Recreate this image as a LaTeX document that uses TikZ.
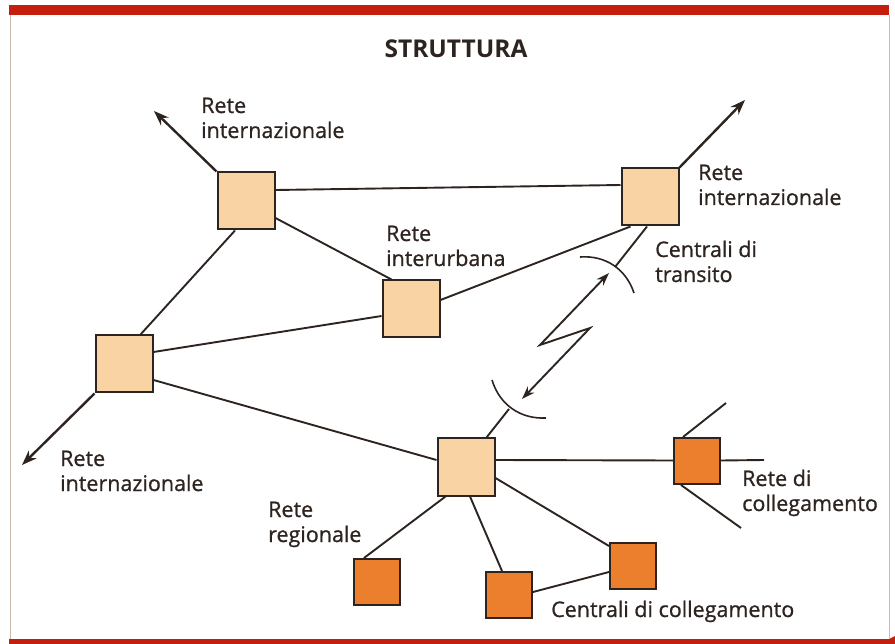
\documentclass[tikz,border=0pt]{standalone}
\usepackage{fontspec}
\setmainfont{Open Sans}
\newfontfamily\lblfont[FakeBold=0.9]{Open Sans}
\usetikzlibrary{arrows.meta}
\definecolor{peach}{HTML}{F9D3A3}
\definecolor{orng}{HTML}{EB7F2E}
\definecolor{ink}{HTML}{2D2420}
\definecolor{band}{HTML}{C41E0E}
\definecolor{frame}{HTML}{C9BBAE}
\tikzset{
  lsq/.style={draw=ink, line width=2pt, fill=peach, minimum size=57pt, inner sep=0pt},
  osq/.style={draw=ink, line width=2pt, fill=orng, minimum size=46pt, inner sep=0pt},
  link/.style={draw=ink, line width=1.9pt},
  outarrow/.style={draw=ink, line width=2.4pt, -{Stealth[length=15pt,width=11pt]}},
  zig/.style={draw=ink, line width=1.9pt, {Stealth[length=13pt,width=9pt]}-{Stealth[length=13pt,width=9pt]}},
  lbl/.style={font=\lblfont\fontsize{21.5}{25}\selectfont, text=ink, align=left, anchor=base west, inner sep=0pt},
  ttl/.style={font=\fontsize{24.5}{28}\selectfont\bfseries, text=ink, anchor=base, inner sep=0pt}
}
\begin{document}
\begin{tikzpicture}[x=1pt,y=-1pt]
\useasboundingbox (0,0) rectangle (895,644);
% frame
\fill[band] (9,5) rectangle (889,15.5);
\fill[band] (9,639) -- (889,639) -- (895,636) -- (895,644) -- (9,644) -- cycle;
\draw[frame, line width=0.8pt] (10,15) -- (10,639);
\draw[frame, line width=0.8pt] (889,15) -- (889,639);
% title
\node[ttl] (title) at (456,58) {STRUTTURA};
% nodes
\node[lsq] (A) at (246,201) {};
\node[lsq] (B) at (650,197) {};
\node[lsq] (C) at (411,309) {};
\node[lsq] (D) at (124,364) {};
\node[lsq] (E) at (466,467) {};
\node[osq] (F) at (697,461) {};
\node[osq] (G) at (377,582) {};
\node[osq] (H) at (509,595) {};
\node[osq] (I) at (633,566) {};
% free ends
\coordinate (aA) at (154,111);
\coordinate (aB) at (745,100);
\coordinate (aD) at (22,465);
\coordinate (fR) at (764,460);
\coordinate (fT) at (726,403);
\coordinate (fB) at (741,528);
\coordinate (tu) at (615,267);
\coordinate (tl) at (509,409);
\coordinate (z1) at (609,273);
\coordinate (z2) at (540,345);
\coordinate (z3) at (590,328);
\coordinate (z4) at (522,399);
\coordinate (au1) at (580,257);
\coordinate (au2) at (634,293);
\coordinate (al1) at (492,380);
\coordinate (al2) at (546,418);
% links
\draw[link] ([yshift=11pt]A.east) -- ([yshift=12pt]B.west);
\draw[link] ([yshift=-17pt]A.east) -- ([xshift=10pt]C.north west);
\draw[link] ([xshift=-11pt]A.south) -- ([xshift=-13pt]D.north east);
\draw[link] ([yshift=12pt]D.east) -- ([yshift=-7pt]C.west);
\draw[link] ([yshift=9pt]C.east) -- ([xshift=10pt]B.south west);
\draw[link] ([yshift=-16pt]D.east) -- ([yshift=7pt]E.west);
\draw[link] ([yshift=7pt]E.east) -- ([yshift=0.5pt]F.west);
\draw[link] ([yshift=0.5pt]F.east) -- (fR);
\draw[link] ([xshift=10pt]F.north west) -- (fT);
\draw[link] ([xshift=8pt]F.south west) -- (fB);
\draw[link] ([xshift=9pt]E.south west) -- ([xshift=11pt]G.north west);
\draw[link] ([xshift=4pt]E.south) -- ([xshift=17pt]H.north west);
\draw[link] ([yshift=-11pt]E.east) -- ([yshift=20pt]I.west);
\draw[link] ([yshift=3pt]H.east) -- ([yshift=-6pt]I.west);
\draw[link] ([xshift=-3pt]B.south) -- (tu);
\draw[link] ([xshift=-9pt]E.north east) -- (tl);
% outgoing arrows
\draw[outarrow] (A.north west) -- (aA);
\draw[outarrow] (B.north east) -- (aB);
\draw[outarrow] (D.south west) -- (aD);
% radio link
\draw[zig] (z1) -- (z2) -- (z3) -- (z4);
\draw[ink, line width=1.6pt] (au1) to[bend left=38] (au2);
\draw[ink, line width=1.6pt] (al1) to[bend right=38] (al2);
% labels
\node[lbl] (l1) at (201,138) {Rete\\internazionale};
\node[lbl] (l2) at (698,205) {Rete\\internazionale};
\node[lbl] (l3) at (386,266) {Rete\\interurbana};
\node[lbl] (l4) at (655,282) {Centrali di\\transito};
\node[lbl] (l5) at (60,491) {Rete\\internazionale};
\node[lbl] (l6) at (268,542) {Rete\\regionale};
\node[lbl] (l7) at (742,511) {Rete di\\collegamento};
\node[lbl] (l8) at (551,617) {Centrali di collegamento};
\end{tikzpicture}
\end{document}
